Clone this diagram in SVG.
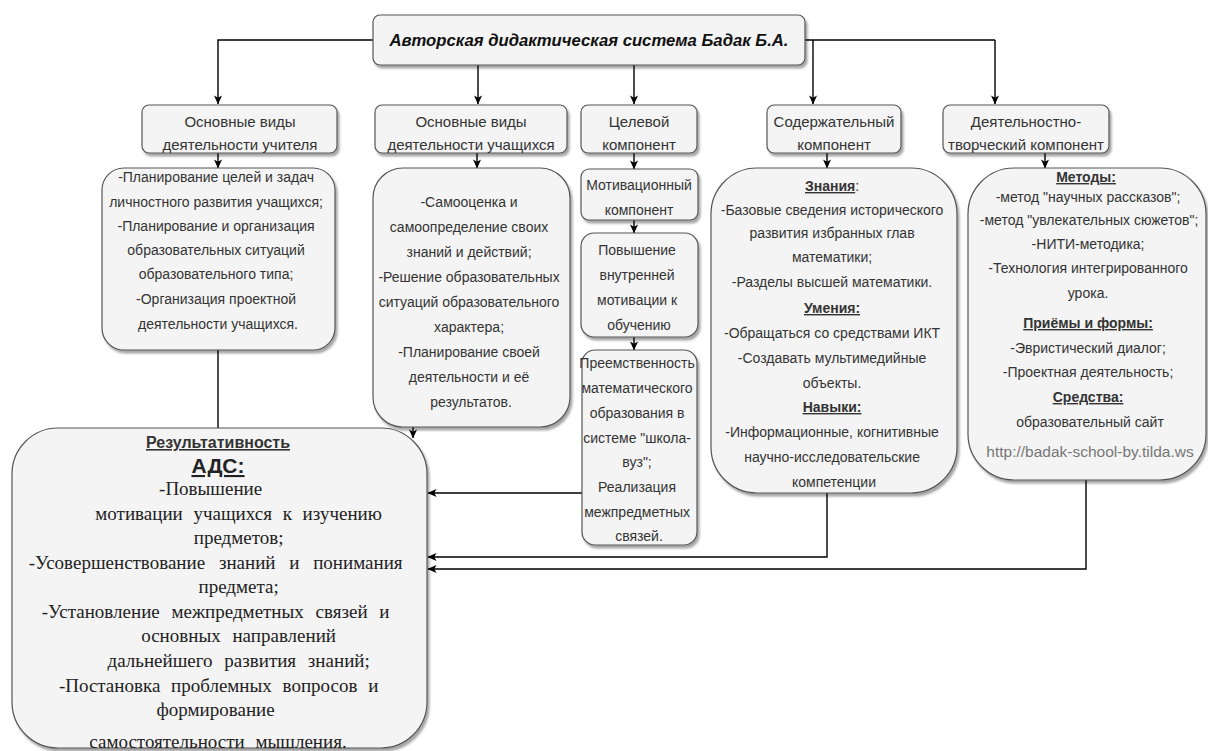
<svg xmlns="http://www.w3.org/2000/svg" width="1208" height="751" viewBox="0 0 1208 751">
  <defs>
    <filter id="shadow" x="-10%" y="-10%" width="130%" height="130%">
      <feDropShadow dx="2" dy="3" stdDeviation="1.2" flood-color="#000" flood-opacity="0.35"/>
    </filter>
    <marker id="arrow" viewBox="0 0 10 10" refX="9.5" refY="5" markerWidth="9" markerHeight="9" orient="auto" markerUnits="userSpaceOnUse">
      <path d="M0,0.5 L10,5 L0,9.5 L2.5,5 z" fill="#000"/>
    </marker>
    <style>
      .box { fill: #f4f4f4; stroke: #555; stroke-width: 1.2; filter: url(#shadow); }
      .edge { fill: none; stroke: #000; stroke-width: 1.4; marker-end: url(#arrow); }
      .line { fill: none; stroke: #000; stroke-width: 1.4; }
      .t { font-family: "Liberation Sans", Arial, sans-serif; font-size: 14px; fill: #333; text-anchor: middle; }
      .h { font-family: "Liberation Sans", Arial, sans-serif; font-size: 15px; fill: #333; text-anchor: middle; }
      .b { font-weight: bold; text-decoration: underline; }
      .title { font-family: "Liberation Sans", Arial, sans-serif; font-size: 16.7px; font-weight: bold; font-style: italic; fill: #111; text-anchor: middle; }
      .serif { font-family: "Liberation Serif", "Times New Roman", serif; font-size: 19px; fill: #222; text-anchor: middle; }
      .url { font-family: "Liberation Sans", Arial, sans-serif; font-size: 15.5px; fill: #777; text-anchor: middle; }
    </style>
  </defs>

  <rect width="1208" height="751" fill="#fff"/>

  <!-- connectors -->
  <g id="connectors">
    <path class="edge" d="M373,40 H218 V104"/>
    <path class="edge" d="M478,65 V104"/>
    <path class="edge" d="M634,65 V104"/>
    <path class="line" d="M805,40 H995"/>
    <path class="edge" d="M995,40 V104"/>
    <path class="edge" d="M813,40 V104"/>

    <path class="edge" d="M218,153 V168"/>
    <path class="edge" d="M477,153 V168"/>
    <path class="edge" d="M634,153 V169"/>
    <path class="edge" d="M634,220 V233"/>
    <path class="edge" d="M634,337 V350"/>
    <path class="edge" d="M827,153 V168"/>
    <path class="edge" d="M1045,153 V168"/>

    <path class="edge" d="M218,350 V437"/>
    <path class="edge" d="M413,427 V438"/>
    <path class="edge" d="M582,493 H428"/>
    <path class="edge" d="M827,493 V557 H428"/>
    <path class="edge" d="M1086,480 V569 H428"/>
  </g>

  <!-- root -->
  <g id="root">
    <rect class="box" x="373" y="15" width="432" height="50" rx="7"/>
    <text class="title" x="589" y="46">Авторская дидактическая система Бадак Б.А.</text>
  </g>

  <!-- header row -->
  <g id="teacher-head">
    <rect class="box" x="142" y="105" width="195" height="48" rx="7"/>
    <text class="h"><tspan x="240" y="127">Основные виды</tspan><tspan x="240" y="150">деятельности учителя</tspan></text>
  </g>
  <g id="pupil-head">
    <rect class="box" x="375" y="105" width="192" height="48" rx="7"/>
    <text class="h"><tspan x="471" y="127">Основные виды</tspan><tspan x="471" y="150">деятельности учащихся</tspan></text>
  </g>
  <g id="target-head">
    <rect class="box" x="581" y="105" width="116" height="48" rx="7"/>
    <text class="h"><tspan x="639" y="127">Целевой</tspan><tspan x="639" y="150">компонент</tspan></text>
  </g>
  <g id="content-head">
    <rect class="box" x="767" y="105" width="134" height="48" rx="7"/>
    <text class="h"><tspan x="834" y="127">Содержательный</tspan><tspan x="834" y="150">компонент</tspan></text>
  </g>
  <g id="activity-head">
    <rect class="box" x="943" y="105" width="166" height="48" rx="7"/>
    <text class="h"><tspan x="1026" y="127">Деятельностно-</tspan><tspan x="1026" y="150">творческий компонент</tspan></text>
  </g>

  <!-- teacher activities -->
  <g id="teacher-body">
    <rect class="box" x="102" y="168" width="233" height="182" rx="22"/>
    <text class="t">
      <tspan x="218" y="182">-Планирование целей и задач</tspan>
      <tspan x="218" y="207">личностного развития учащихся;</tspan>
      <tspan x="218" y="231">-Планирование и организация</tspan>
      <tspan x="218" y="255">образовательных ситуаций</tspan>
      <tspan x="218" y="279">образовательного типа;</tspan>
      <tspan x="218" y="304">-Организация проектной</tspan>
      <tspan x="218" y="329">деятельности учащихся.</tspan>
    </text>
  </g>

  <!-- pupil activities -->
  <g id="pupil-body">
    <rect class="box" x="373" y="168" width="197" height="259" rx="30"/>
    <text class="t">
      <tspan x="471" y="207">-Самооценка и</tspan>
      <tspan x="471" y="232">самоопределение своих</tspan>
      <tspan x="471" y="257">знаний и действий;</tspan>
      <tspan x="471" y="282">-Решение образовательных</tspan>
      <tspan x="471" y="307">ситуаций образовательного</tspan>
      <tspan x="471" y="332">характера;</tspan>
      <tspan x="471" y="357">-Планирование своей</tspan>
      <tspan x="471" y="382">деятельности и её</tspan>
      <tspan x="471" y="407">результатов.</tspan>
    </text>
  </g>

  <!-- target column -->
  <g id="motivation">
    <rect class="box" x="581" y="169" width="117" height="51" rx="8"/>
    <text class="t"><tspan x="639" y="190">Мотивационный</tspan><tspan x="639" y="215">компонент</tspan></text>
  </g>
  <g id="inner-motivation">
    <rect class="box" x="581" y="233" width="117" height="104" rx="13"/>
    <text class="t">
      <tspan x="639" y="255">Повышение</tspan>
      <tspan x="639" y="280">внутренней</tspan>
      <tspan x="639" y="305">мотивации к</tspan>
      <tspan x="639" y="330">обучению</tspan>
    </text>
  </g>
  <g id="continuity">
    <rect class="box" x="582" y="350" width="115" height="195" rx="13"/>
    <text class="t">
      <tspan x="639" y="368">Преемственность</tspan>
      <tspan x="639" y="393">математического</tspan>
      <tspan x="639" y="418">образования в</tspan>
      <tspan x="639" y="443">системе "школа-</tspan>
      <tspan x="639" y="467">вуз";</tspan>
      <tspan x="639" y="492">Реализация</tspan>
      <tspan x="639" y="517">межпредметных</tspan>
      <tspan x="639" y="541">связей.</tspan>
    </text>
  </g>

  <!-- content component -->
  <g id="content-body">
    <rect class="box" x="711" y="168" width="246" height="325" rx="46"/>
    <text class="t">
      <tspan x="834" y="191"><tspan class="b">Знания</tspan>:</tspan>
      <tspan x="834" y="215">-Базовые сведения исторического</tspan>
      <tspan x="834" y="238">развития избранных глав</tspan>
      <tspan x="834" y="262">математики;</tspan>
      <tspan x="834" y="287">-Разделы высшей математики.</tspan>
      <tspan x="834" y="313" class="b">Умения:</tspan>
      <tspan x="834" y="338">-Обращаться со средствами ИКТ</tspan>
      <tspan x="834" y="363">-Создавать мультимедийные</tspan>
      <tspan x="834" y="388">объекты.</tspan>
      <tspan x="834" y="412" class="b">Навыки:</tspan>
      <tspan x="834" y="437">-Информационные, когнитивные</tspan>
      <tspan x="834" y="462">научно-исследовательские</tspan>
      <tspan x="834" y="487">компетенции</tspan>
    </text>
  </g>

  <!-- activity component -->
  <g id="activity-body">
    <rect class="box" x="968" y="168" width="238" height="312" rx="46"/>
    <text class="t">
      <tspan x="1088" y="182" class="b">Методы:</tspan>
      <tspan x="1090" y="202">-метод "научных рассказов";</tspan>
      <tspan x="1091" y="225">-метод "увлекательных сюжетов";</tspan>
      <tspan x="1090" y="249">-НИТИ-методика;</tspan>
      <tspan x="1090" y="273">-Технология интегрированного</tspan>
      <tspan x="1090" y="298">урока.</tspan>
      <tspan x="1090" y="328" class="b">Приёмы и формы:</tspan>
      <tspan x="1090" y="353">-Эвристический диалог;</tspan>
      <tspan x="1090" y="377">-Проектная деятельность;</tspan>
      <tspan x="1090" y="402" class="b">Средства:</tspan>
      <tspan x="1090" y="427">образовательный сайт</tspan>
    </text>
    <text class="url" x="1090" y="457">http://badak-school-by.tilda.ws</text>
  </g>

  <!-- effectiveness -->
  <g id="result">
    <rect class="box" x="12" y="428" width="415" height="320" rx="46"/>
    <text class="t b" x="218" y="448" style="font-size:16px">Результативность </text>
    <text class="t b" x="218" y="473" style="font-size:21px;fill:#222">АДС:</text>
    <text class="serif">
      <tspan x="213" y="495">-Повышение</tspan>
      <tspan x="241" y="520" word-spacing="6">мотивации учащихся к изучению</tspan>
      <tspan x="241" y="544">предметов;</tspan>
      <tspan x="218" y="569" word-spacing="9">-Усовершенствование знаний и  понимания</tspan>
      <tspan x="241" y="593">предмета;</tspan>
      <tspan x="218" y="618" word-spacing="7">-Установление межпредметных связей и</tspan>
      <tspan x="241" y="642" word-spacing="7">основных направлений</tspan>
      <tspan x="241" y="667" word-spacing="7">дальнейшего развития знаний;</tspan>
      <tspan x="221" y="692" word-spacing="6">-Постановка проблемных вопросов и</tspan>
      <tspan x="218" y="716">формирование</tspan>
      <tspan x="218" y="748" word-spacing="6">самостоятельности мышления.</tspan>
    </text>
  </g>
</svg>
